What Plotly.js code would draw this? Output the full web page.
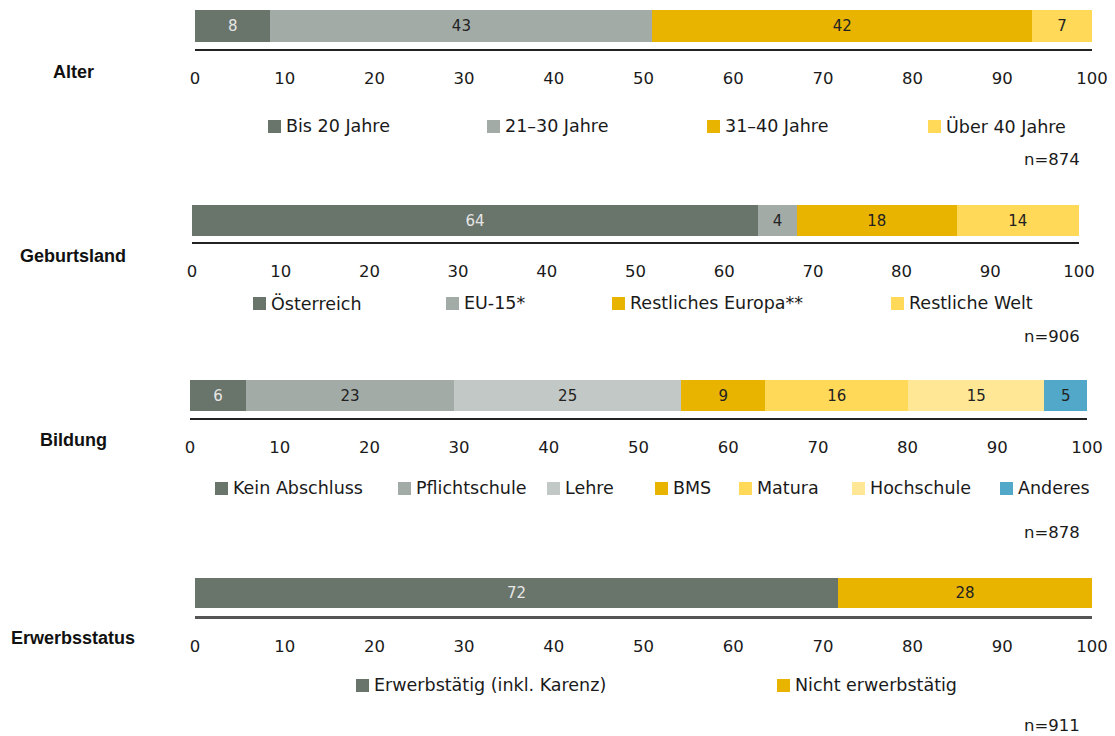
<!DOCTYPE html>
<html>
<head>
<meta charset="utf-8">
<script src="https://cdn.plot.ly/plotly-3.0.1.min.js"></script>
<style>html,body{margin:0;padding:0;background:#fff;}#chart{width:1115px;height:736px;}</style>
</head>
<body>
<div id="chart"></div>
<script>
// ---- data ----
const groups = ["Alter", "Geburtsland", "Bildung", "Erwerbsstatus"];
const sampleSizes = ["n=874", "n=906", "n=878", "n=911"];

const alterCats = ["Bis 20 Jahre", "21–30 Jahre", "31–40 Jahre", "Über 40 Jahre"];
const alterValues = [8.4, 42.6, 42.3, 6.7];
const alterLabels = ["8", "43", "42", "7"];

const geburtCats = ["Österreich", "EU-15*", "Restliches Europa**", "Restliche Welt"];
const geburtValues = [63.8, 4.4, 18.0, 13.8];
const geburtLabels = ["64", "4", "18", "14"];

const bildungCats = ["Kein Abschluss", "Pflichtschule", "Lehre", "BMS", "Matura", "Hochschule", "Anderes"];
const bildungValues = [6.25, 23.2, 25.3, 9.4, 15.9, 15.2, 4.75];
const bildungLabels = ["6", "23", "25", "9", "16", "15", "5"];

const erwerbCats = ["Erwerbstätig (inkl. Karenz)", "Nicht erwerbstätig"];
const erwerbValues = [71.7, 28.3];
const erwerbLabels = ["72", "28"];

const tickValues = [0, 10, 20, 30, 40, 50, 60, 70, 80, 90, 100];

// ---- styles / layout geometry (pixels) ----
const W = 1115, H = 736;
const C = {dark:"#69746b", mid:"#a3aba6", light:"#c2c8c5", gold:"#e8b400", yellow:"#ffd957", pale:"#ffe795", blue:"#52a8c9"};
const panels = [
  {cats: alterCats, vals: alterValues, labs: alterLabels, colors:[C.dark,C.mid,C.gold,C.yellow],
   x0:195, x1:1092, barTop:10, barBot:42, line:49, legY:126, nY:160, labY:72, lineW:1.5, lineC:"#222",
   legX:[268,487,707,928]},
  {cats: geburtCats, vals: geburtValues, labs: geburtLabels, colors:[C.dark,C.mid,C.gold,C.yellow],
   x0:192, x1:1079, barTop:205, barBot:236, line:242, legY:303, nY:336, labY:256, lineW:1.5, lineC:"#222",
   legX:[253,446,612,891]},
  {cats: bildungCats, vals: bildungValues, labs: bildungLabels, colors:[C.dark,C.mid,C.light,C.gold,C.yellow,C.pale,C.blue],
   x0:190, x1:1087, barTop:380, barBot:411, line:418, legY:488, nY:532, labY:440, lineW:1.5, lineC:"#222",
   legX:[215,398,547,655,739,852,1000]},
  {cats: erwerbCats, vals: erwerbValues, labs: erwerbLabels, colors:[C.dark,C.gold],
   x0:195, x1:1092, barTop:578, barBot:608, line:616, legY:685, nY:725, labY:638, lineW:2.5, lineC:"#555",
   legX:[356,777]}
];

const px = x => x / W;
const py = y => 1 - y / H;
const FONT = "DejaVu Sans";

const traces = [];
const layout = {
  width: W, height: H,
  margin: {l:0, r:0, t:0, b:0},
  paper_bgcolor: "#fff", plot_bgcolor: "rgba(0,0,0,0)",
  barmode: "stack", showlegend: false,
  font: {family: FONT, size: 16, color: "#1a1a1a"},
  annotations: [], shapes: []
};

panels.forEach((p, i) => {
  const k = i === 0 ? "" : String(i + 1);
  const xa = "x" + k, ya = "y" + k;
  p.cats.forEach((c, j) => {
    traces.push({
      type: "bar", orientation: "h", name: c,
      x: [p.vals[j]], y: [0], text: [p.labs[j]],
      xaxis: xa, yaxis: ya, width: 1,
      marker: {color: p.colors[j], line: {width: 0}},
      textposition: "inside", insidetextanchor: "middle", textangle: 0,
      constraintext: "none",
      textfont: {family: FONT, size: 15, color: j === 0 ? "#e6e6e6" : "#222"},
      hovertemplate: c + ": %{text}%<extra></extra>"
    });
  });
  const gap = (p.line - p.barBot) / (p.barBot - p.barTop);
  layout["xaxis" + k] = {
    domain: [px(p.x0), px(p.x1)], anchor: ya, range: [0, 100],
    tickvals: tickValues, ticks: "", showgrid: false, zeroline: false,
    showline: true, linecolor: p.lineC, linewidth: p.lineW,
    ticklabelstandoff: 14, tickfont: {family: FONT, size: 16.5, color: "#1a1a1a"},
    fixedrange: true
  };
  layout["yaxis" + k] = {
    domain: [py(p.line), py(p.barTop)], anchor: xa, range: [-0.5 - gap, 0.5],
    visible: false, fixedrange: true
  };
  // group label
  layout.annotations.push({
    xref: "paper", yref: "paper", x: px(73), y: py(p.labY), xanchor: "center", yanchor: "middle",
    text: groups[i], showarrow: false,
    font: {family: "Liberation Sans", size: 18, color: "#111", weight: "bold"}
  });
  // sample size
  layout.annotations.push({
    xref: "paper", yref: "paper", x: px(1082), y: py(p.nY), xanchor: "right", yanchor: "middle",
    text: sampleSizes[i], showarrow: false,
    font: {family: FONT, size: 16.5, color: "#1a1a1a"}
  });
  // legend entries
  p.cats.forEach((c, j) => {
    const lx = p.legX[j];
    layout.shapes.push({
      type: "rect", xref: "paper", yref: "paper",
      x0: px(lx), x1: px(lx + 13), y0: py(p.legY + 7), y1: py(p.legY - 6),
      fillcolor: p.colors[j], line: {width: 0}
    });
    layout.annotations.push({
      xref: "paper", yref: "paper", x: px(lx + 16), y: py(p.legY), xanchor: "left", yanchor: "middle",
      text: c, showarrow: false,
      font: {family: FONT, size: 17.5, color: "#1a1a1a"}
    });
  });
});

Plotly.newPlot("chart", traces, layout, {displayModeBar: false, staticPlot: true});
</script>
</body>
</html>
